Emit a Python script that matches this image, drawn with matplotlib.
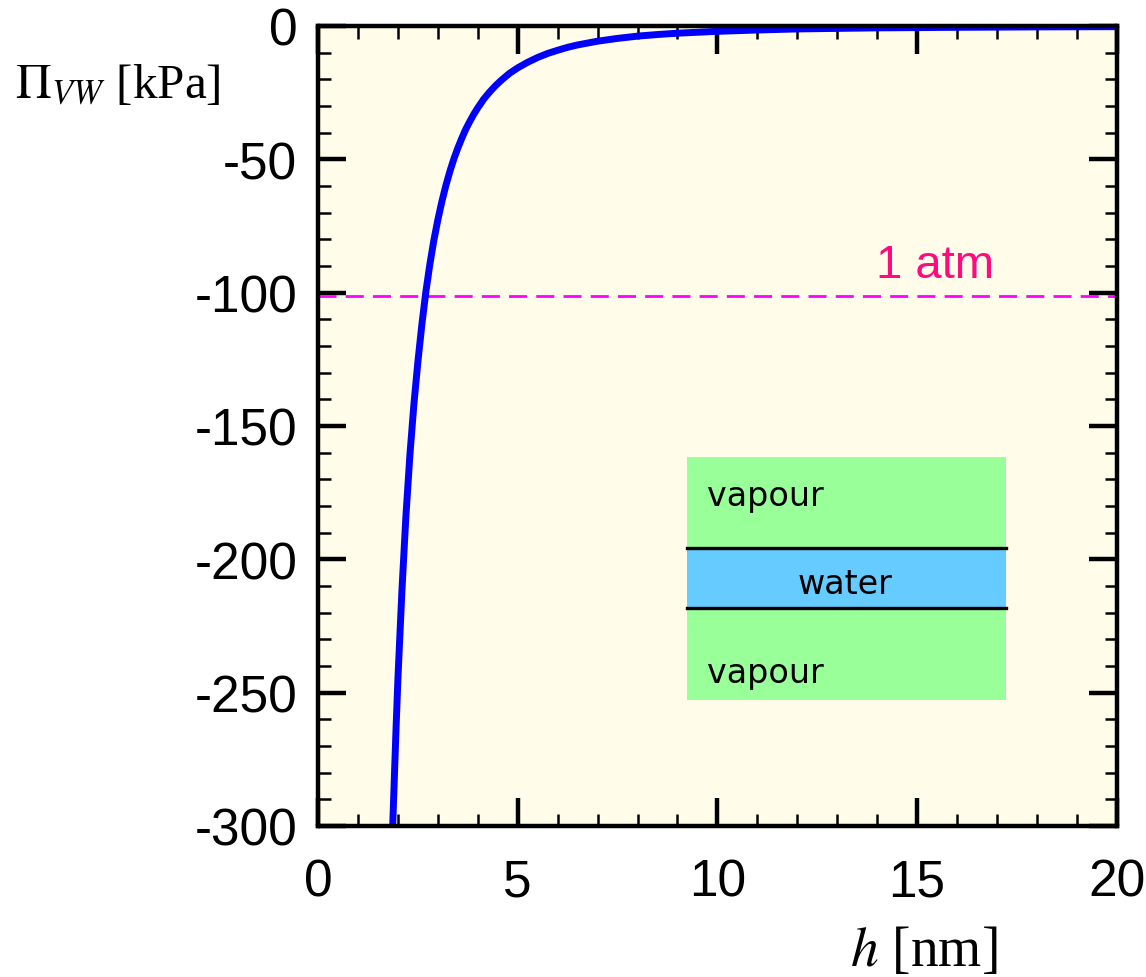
import matplotlib
matplotlib.use("Agg")
import matplotlib.pyplot as plt
from matplotlib.patches import Rectangle
from matplotlib.ticker import MultipleLocator

# ---- data ----
h_nm = [1.87, 1.95, 2.0, 2.1, 2.2, 2.3, 2.4, 2.5, 2.6, 2.7, 2.8, 2.9, 3.0, 3.1,
        3.2, 3.3, 3.4, 3.5, 3.6, 3.7, 3.8, 3.9, 4.0, 4.15, 4.3, 4.45, 4.6, 4.8,
        5.0, 5.25, 5.5, 5.75, 6.0, 6.25, 6.5, 7.0, 7.5, 8.0, 8.5, 9.0, 10.0,
        11.0, 12.0, 14.0, 16.0, 18.0, 20.0]
pi_vw_kpa = [-300, -265, -245, -212, -184, -161, -142, -126, -112, -99.7,
             -89.4, -80.4, -72.7, -65.9, -59.9, -54.6, -49.9, -45.8, -42.1,
             -38.7, -35.8, -33.1, -30.7, -27.4, -24.7, -22.3, -20.2, -17.7,
             -15.7, -13.6, -11.8, -10.3, -9.1, -8.0, -7.1, -5.7, -4.65, -3.8,
             -3.2, -2.7, -2.0, -1.5, -1.1, -0.7, -0.5, -0.34, -0.25]
atm_kpa = -101.325
atm_label = "1 atm"
x_ticks = [0, 5, 10, 15, 20]
y_ticks = [0, -50, -100, -150, -200, -250, -300]
inset_labels = ["vapour", "water", "vapour"]

plt.rcParams["mathtext.fontset"] = "stix"

fig = plt.figure(figsize=(11.46, 9.78), dpi=100)
ax = fig.add_axes([0.2775, 0.1544, 0.697, 0.818])
ax.set_facecolor("#FFFDE9")

ax.plot(h_nm, pi_vw_kpa, color="#0000FF", lw=5.0, solid_capstyle="butt",
        solid_joinstyle="round", zorder=5)
ax.axhline(atm_kpa, color="#FF00FF", lw=2.0, dashes=(6.5, 3.3), zorder=4)
ax.text(15.44, -94.1, atm_label, color="#FF0A7F", fontsize=34,
        family="Liberation Sans", ha="center", va="baseline")

# inset schematic
ax.add_patch(Rectangle((9.24, -252.7), 7.98, 91.1, facecolor="#99FF99",
                       edgecolor="none", zorder=2))
ax.add_patch(Rectangle((9.24, -218.4), 7.98, 22.8, facecolor="#66CCFF",
                       edgecolor="none", zorder=2))
for yv in (-195.6, -218.4):
    ax.plot([9.24, 17.22], [yv, yv], color="black", lw=2.4, zorder=3)
ax.text(9.75, -179.5, inset_labels[0], fontsize=24, family="DejaVu Sans",
        ha="left", va="baseline", zorder=3)
ax.text(13.2, -212.5, inset_labels[1], fontsize=24, family="DejaVu Sans",
        ha="center", va="baseline", zorder=3)
ax.text(9.75, -246, inset_labels[2], fontsize=24, family="DejaVu Sans",
        ha="left", va="baseline", zorder=3)

ax.set_xlim(0, 20)
ax.set_ylim(-300, 0)
ax.set_xticks(x_ticks)
ax.set_yticks(y_ticks)
ax.set_xticklabels([str(v) for v in x_ticks])
ax.set_yticklabels([str(v) for v in y_ticks])
ax.xaxis.set_minor_locator(MultipleLocator(1))
ax.yaxis.set_minor_locator(MultipleLocator(10))
ax.tick_params(which="major", direction="in", length=20, width=3.2,
               top=True, right=True, labelsize=37)
ax.tick_params(axis="x", which="major", pad=23)
ax.tick_params(axis="y", which="major", pad=15)
ax.tick_params(which="minor", direction="in", length=9, width=1.8,
               top=True, right=True)
for lab in ax.get_xticklabels() + ax.get_yticklabels():
    lab.set_family("Liberation Sans")
for sp in ax.spines.values():
    sp.set_linewidth(3.2)
    sp.set_zorder(6)

fig.text(0.013, 0.9, r"$\Pi_{VW}$ [kPa]", fontsize=35.5, family="Liberation Serif",
         ha="left", va="baseline")
fig.text(0.870, 0.012, r"$h$ [nm]", fontsize=40, family="Liberation Serif",
         ha="right", va="baseline")

fig.savefig("out.png", dpi=100)
